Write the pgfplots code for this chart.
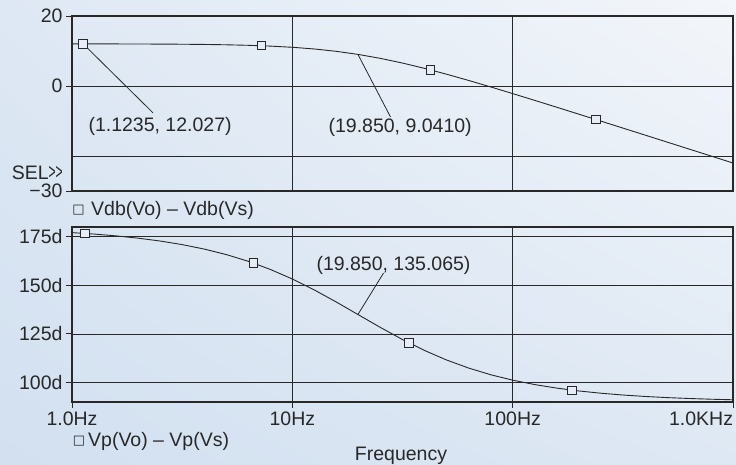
\documentclass[border=0pt]{standalone}
\usepackage{fontspec}
\setmainfont{Liberation Sans}
\newfontfamily\dejavu{DejaVu Sans}
\usepackage{graphicx}
\usepackage{pgfplots}
\usepackage{pgfplotstable}
\pgfplotsset{compat=1.18}
\usetikzlibrary{shadings}
\definecolor{bgLL}{RGB}{210,224,240}
\definecolor{bgUL}{RGB}{222,232,244}
\definecolor{bgUR}{RGB}{243,246,250}
\definecolor{bgLR}{RGB}{222,232,244}
\definecolor{mkfill}{RGB}{230,237,246}
\definecolor{ink}{RGB}{40,40,40}

% f [Hz], gain [dB], phase [deg]
\pgfplotstableread{
f gain phase
1.000 12.030 177.116
1.259 12.024 176.371
1.585 12.013 175.434
1.995 11.997 174.261
2.512 11.972 172.787
3.162 11.932 170.949
3.981 11.870 168.658
5.012 11.773 165.830
6.310 11.623 162.370
7.943 11.396 158.190
10.00 11.059 153.260
12.59 10.573 147.610
15.85 9.899 141.390
19.85 9.031 135.000
25.12 7.889 128.320
31.62 6.554 122.120
39.81 5.032 116.500
50.12 3.363 111.600
63.10 1.586 107.460
79.43 -0.267 104.030
100.0 -2.171 101.230
125.9 -4.111 98.960
158.5 -6.072 97.140
199.5 -8.045 95.680
251.2 -10.031 94.520
316.2 -12.021 93.590
398.1 -14.014 92.855
501.2 -16.011 92.268
631.0 -18.009 91.802
794.3 -20.006 91.432
1000 -22.006 91.137
}\bode

\begin{document}
\begin{tikzpicture}[x=1bp,y=1bp,font=\fontsize{19.5bp}{23bp}\selectfont]
\useasboundingbox (0,0) rectangle (736,465);
\shade[shading=bilinear interpolation, lower left=bgLL, upper left=bgUL, upper right=bgUR, lower right=bgLR] (0,0) rectangle (736,465);

% ---------- magnitude ----------
\begin{axis}[at={(72bp,274bp)}, anchor=south west,
  scale only axis, width=661bp, height=175bp,
  xmode=log, xmin=1, xmax=1000,
  xtick={1,10,100,1000}, xminorticks=false, yminorticks=false,
  axis line style={line width=1.3bp, draw=ink},
  grid=major, major grid style={line width=0.8bp, draw=ink},
  tick align=outside, major tick length=6bp,
  tick style={line width=0.9bp, draw=ink},
  tick pos=left,
  tick label style={font=\fontsize{19.5bp}{23bp}\selectfont, text=ink},
  ymin=-30, ymax=20, ytick={-30,0,20}, yticklabels={−30,0,20},
  xticklabels={}, xtick style={draw=none},
  extra y ticks={-20}, extra y tick labels={},
  extra y tick style={tick style={draw=none}}]
\addplot[ink, line width=0.9bp, mark=none] table[x=f, y=gain] {\bode};
\addplot[only marks, mark=square*, mark size=4.2bp, mark options={fill=mkfill, draw=ink, line width=0.9bp}]
  coordinates {(1.1235,12.027) (7.23,11.50) (42.4,4.588) (239,-9.60)};
\draw[ink, line width=0.8bp] (axis cs:1.1235,12.027) -- (axis cs:2.335,-7.71);
\draw[ink, line width=0.8bp] (axis cs:19.85,9.031) -- (axis cs:27.9,-8.86);
\node[anchor=base west, inner sep=0, text=ink] at (axis cs:1.186,-13.06) {(1.1235, 12.027)};
\node[anchor=base west, inner sep=0, text=ink] at (axis cs:14.58,-13.43) {(19.850, 9.0410)};
\end{axis}

% ---------- phase ----------
\begin{axis}[at={(72bp,63bp)}, anchor=south west,
  scale only axis, width=661bp, height=175bp,
  xmode=log, xmin=1, xmax=1000,
  xtick={1,10,100,1000}, xminorticks=false, yminorticks=false,
  axis line style={line width=1.3bp, draw=ink},
  grid=major, major grid style={line width=0.8bp, draw=ink},
  tick align=outside, major tick length=6bp,
  tick style={line width=0.9bp, draw=ink},
  tick pos=left,
  tick label style={font=\fontsize{19.5bp}{23bp}\selectfont, text=ink},
  ymin=90, ymax=180, ytick={100,125,150,175},
  yticklabels={100d,125d,150d,175d},
  xticklabels={1.0Hz,10Hz,100Hz,\makebox[0pt][r]{1.0KHz}}]
\addplot[ink, line width=0.9bp, mark=none] table[x=f, y=phase] {\bode};
\addplot[only marks, mark=square*, mark size=4.2bp, mark options={fill=mkfill, draw=ink, line width=0.9bp}]
  coordinates {(1.146,176.70) (6.65,161.48) (33.79,120.43) (186,96.09)};
\draw[ink, line width=0.8bp] (axis cs:19.85,135.0) -- (axis cs:25.93,156.3);
\node[anchor=base west, inner sep=0, text=ink] at (axis cs:12.85,157.84) {(19.850, 135.065)};
\end{axis}

% ---------- legends and labels ----------
\node[anchor=east, inner sep=0, text=ink] at (63,292) {SEL\scalebox{0.62}[1.15]{>{}>}};
\node[inner sep=0, text=ink] at (78.5,255) {\dejavu\fontsize{13bp}{15bp}\selectfont □};
\node[anchor=west, inner sep=0, text=ink] at (91,255) {Vdb(Vo) – Vdb(Vs)};
\node[inner sep=0, text=ink] at (79,24) {\dejavu\fontsize{13bp}{15bp}\selectfont □};
\node[anchor=west, inner sep=0, text=ink] at (88,24) {Vp(Vo) – Vp(Vs)};
\node[anchor=base, inner sep=0, text=ink] at (401,4.6) {Frequency};
\end{tikzpicture}
\end{document}
